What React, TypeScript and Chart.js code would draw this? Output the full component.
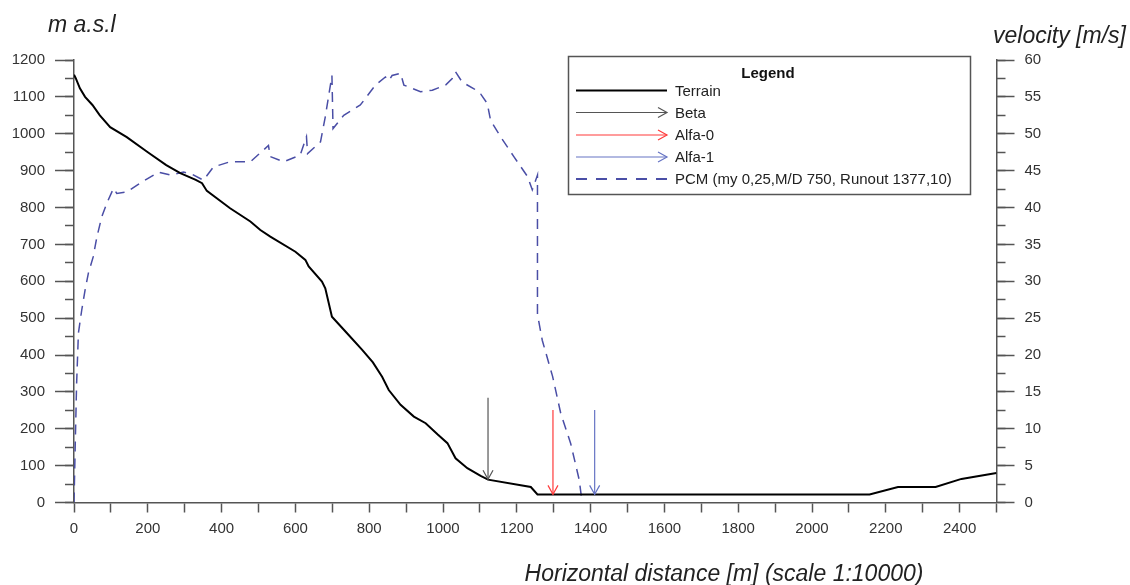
import React, { useEffect, useRef } from "react";
import { Chart, registerables } from "chart.js";
Chart.register(...registerables);

// ---- Data ----
const terrainX = [0, 5, 16, 30, 50, 70, 98, 143, 200, 250, 288, 330, 347, 360, 423, 478, 505, 532, 600, 627, 636, 672, 681, 699, 740, 781, 810, 835, 853, 885, 921, 953, 985, 1012, 1034, 1066, 1102, 1122, 1238, 1256, 2156, 2233, 2335, 2405, 2500];
const terrainY = [1160, 1150, 1123, 1100, 1078, 1050, 1018, 991, 950, 915, 893, 875, 866, 845, 798, 762, 739, 721, 680, 658, 640, 599, 581, 504, 459, 414, 380, 341, 305, 265, 233, 215, 185, 161, 120, 93, 72, 62, 42, 22, 22, 42, 42, 64, 80];

const velocityX = [0, 3, 7, 12, 21, 30, 39, 52, 62, 75, 89, 107, 116, 143, 179, 229, 261, 297, 320, 351, 378, 423, 478, 527, 532, 568, 613, 630, 633, 668, 681, 699, 702, 731, 776, 817, 844, 853, 862, 885, 894, 939, 971, 1007, 1025, 1034, 1052, 1084, 1102, 1120, 1129, 1156, 1192, 1229, 1242, 1256, 1256, 1269, 1297, 1319, 1346, 1369, 1377.1];
const velocityY = [0, 7, 16, 23, 26.1, 28.8, 31.1, 33.3, 36, 38.7, 40.6, 42.6, 41.9, 42.1, 43.3, 44.8, 44.4, 44.8, 44.5, 43.7, 45.5, 46.2, 46.2, 48.4, 46.9, 46.2, 47.1, 49.6, 47.3, 48.9, 52.3, 57.9, 50.7, 52.5, 53.9, 56.6, 57.7, 57.2, 57.9, 58.2, 56.6, 55.7, 55.9, 56.6, 57.5, 58.4, 57, 56.1, 55.4, 54.1, 51.8, 49.6, 46.9, 44.2, 42.4, 44.4, 25.5, 22, 17.1, 12.1, 8, 3.1, 0];

// Arrows: Beta, Alfa-0, Alfa-1 (x position, start elevation, tip elevation)
const arrowNames = ["Beta", "Alfa-0", "Alfa-1"];
const arrowX = [1122, 1298, 1411];
const arrowTop = [284, 251, 251];
const arrowTip = [63, 22, 22];

const legendLabels = ["Terrain", "Beta", "Alfa-0", "Alfa-1", "PCM (my 0,25,M/D 750, Runout 1377,10)"];

const xTitle = "Horizontal distance [m] (scale 1:10000)";
const yTitle = "m a.s.l";
const vTitle = "velocity [m/s]";

// ---- Styles ----
const FONT = "'Liberation Sans', Arial, sans-serif";
const AXIS_COLOR = "#555";
const LABEL_COLOR = "#333";
const TERRAIN_COLOR = "#000";
const PCM_COLOR = "#4a4ea6";
const arrowColors = ["#555", "#ff3b3b", "#6674c4"];

function drawArrow(ctx: CanvasRenderingContext2D, x1: number, y1: number, x2: number, y2: number, color: string, width: number) {
  ctx.save();
  ctx.strokeStyle = color;
  ctx.lineWidth = width;
  ctx.beginPath();
  ctx.moveTo(x1, y1);
  ctx.lineTo(x2, y2);
  ctx.stroke();
  const ang = Math.atan2(y2 - y1, x2 - x1);
  const L = 9, W = 5;
  const bx = x2 - L * Math.cos(ang), by = y2 - L * Math.sin(ang);
  const px = -Math.sin(ang) * W, py = Math.cos(ang) * W;
  ctx.beginPath();
  ctx.moveTo(bx + px, by + py);
  ctx.lineTo(x2, y2);
  ctx.lineTo(bx - px, by - py);
  ctx.stroke();
  ctx.restore();
}

const arrowsPlugin = {
  id: "arrows",
  afterDatasetsDraw(chart: any) {
    const ctx = chart.ctx as CanvasRenderingContext2D;
    const xs = chart.scales.x, ys = chart.scales.y;
    for (let i = 0; i < arrowX.length; i++) {
      const px = xs.getPixelForValue(arrowX[i]);
      drawArrow(ctx, px, ys.getPixelForValue(arrowTop[i]), px, ys.getPixelForValue(arrowTip[i]), arrowColors[i], 1.2);
    }
  },
};

const decorPlugin = {
  id: "decor",
  afterDraw(chart: any) {
    const ctx = chart.ctx as CanvasRenderingContext2D;
    ctx.save();
    // axis titles
    ctx.fillStyle = "#222";
    ctx.font = `italic 23px ${FONT}`;
    ctx.textBaseline = "alphabetic";
    ctx.textAlign = "left";
    ctx.fillText(yTitle, 48, 32);
    ctx.fillText(vTitle, 993, 43);
    ctx.textAlign = "center";
    ctx.fillText(xTitle, 724, 581);

    // legend box
    const bx = 568.5, by = 56.5, bw = 402, bh = 138;
    ctx.fillStyle = "#fff";
    ctx.fillRect(bx, by, bw, bh);
    ctx.strokeStyle = AXIS_COLOR;
    ctx.lineWidth = 1.5;
    ctx.strokeRect(bx, by, bw, bh);
    ctx.fillStyle = "#111";
    ctx.font = `bold 15px ${FONT}`;
    ctx.textAlign = "center";
    ctx.fillText("Legend", 768, 78);

    const rows = [90.5, 112.5, 135, 157, 179];
    const sx1 = 576, sx2 = 667, tx = 675;
    ctx.font = `15px ${FONT}`;
    ctx.textAlign = "left";
    ctx.textBaseline = "middle";
    for (let i = 0; i < legendLabels.length; i++) {
      const y = rows[i];
      if (i === 0) {
        ctx.strokeStyle = TERRAIN_COLOR;
        ctx.lineWidth = 2;
        ctx.beginPath(); ctx.moveTo(sx1, y); ctx.lineTo(sx2, y); ctx.stroke();
      } else if (i >= 1 && i <= 3) {
        drawArrow(ctx, sx1, y, sx2, y, arrowColors[i - 1], 1.2);
      } else {
        ctx.save();
        ctx.strokeStyle = PCM_COLOR;
        ctx.lineWidth = 1.8;
        ctx.setLineDash([11, 9]);
        ctx.beginPath(); ctx.moveTo(sx1, y); ctx.lineTo(sx2, y); ctx.stroke();
        ctx.restore();
      }
      ctx.fillStyle = "#222";
      ctx.fillText(legendLabels[i], tx, y + 1);
    }
    ctx.restore();
  },
};

export default function App() {
  const ref = useRef<HTMLCanvasElement>(null);
  useEffect(() => {
    const tickFont = { family: FONT, size: 15 };
    const plain = (v: any) => String(Math.round(Number(v) * 100) / 100);
    const chart = new Chart(ref.current as HTMLCanvasElement, {
      type: "line",
      data: {
        datasets: [
          {
            label: "Terrain",
            data: terrainX.map((x, i) => ({ x, y: terrainY[i] })),
            borderColor: TERRAIN_COLOR,
            borderWidth: 2,
            pointRadius: 0,
            tension: 0,
            xAxisID: "x",
            yAxisID: "y",
          },
          {
            label: "PCM",
            data: velocityX.map((x, i) => ({ x, y: velocityY[i] })),
            borderColor: PCM_COLOR,
            borderWidth: 1.5,
            borderDash: [10, 7],
            pointRadius: 0,
            tension: 0,
            xAxisID: "x",
            yAxisID: "v",
          },
        ],
      },
      options: {
        responsive: false,
        animation: false,
        devicePixelRatio: 1,
        layout: { padding: { top: 60, left: 0, right: 0, bottom: 0 } },
        plugins: { legend: { display: false }, tooltip: { enabled: false } },
        scales: {
          x: {
            type: "linear",
            position: "bottom",
            min: 0,
            max: 2500,
            afterFit(s: any) { s.height = 82.5; },
            ticks: {
              stepSize: 100,
              autoSkip: false,
              maxRotation: 0,
              padding: 7,
              color: LABEL_COLOR,
              font: tickFont,
              callback: (v: any) => {
                const n = Math.round(Number(v));
                return n % 200 === 0 && n < 2500 ? String(n) : "";
              },
            },
            grid: { drawOnChartArea: false, drawTicks: true, tickLength: 10, tickColor: AXIS_COLOR, tickWidth: 1.5 },
            border: { display: true, color: AXIS_COLOR, width: 1.5 },
          },
          y: {
            type: "linear",
            axis: "y",
            position: "left",
            weight: 1,
            min: 0,
            max: 1200,
            afterFit(s: any) { s.width = 74; },
            ticks: { stepSize: 100, autoSkip: false, padding: 10, color: LABEL_COLOR, font: tickFont, callback: plain },
            grid: { drawOnChartArea: false, drawTicks: true, tickLength: 19, tickColor: AXIS_COLOR, tickWidth: 1.5 },
            border: { display: true, color: AXIS_COLOR, width: 1.5 },
          },
          yMinor: {
            type: "linear",
            axis: "y",
            position: "left",
            weight: 0,
            min: 0,
            max: 1200,
            afterFit(s: any) { s.width = 0; },
            ticks: { stepSize: 50, autoSkip: false, display: false },
            grid: { drawOnChartArea: false, drawTicks: true, tickLength: 9, tickColor: AXIS_COLOR, tickWidth: 1.5 },
            border: { display: false },
          },
          v: {
            type: "linear",
            axis: "y",
            position: "right",
            weight: 1,
            min: 0,
            max: 60,
            afterFit(s: any) { s.width = 133.5; },
            ticks: { stepSize: 5, autoSkip: false, padding: 10, color: LABEL_COLOR, font: tickFont, callback: plain },
            grid: { drawOnChartArea: false, drawTicks: true, tickLength: 18, tickColor: AXIS_COLOR, tickWidth: 1.5 },
            border: { display: true, color: AXIS_COLOR, width: 1.5 },
          },
          vMinor: {
            type: "linear",
            axis: "y",
            position: "right",
            weight: 0,
            min: 0,
            max: 60,
            afterFit(s: any) { s.width = 0; },
            ticks: { stepSize: 2.5, autoSkip: false, display: false },
            grid: { drawOnChartArea: false, drawTicks: true, tickLength: 9, tickColor: AXIS_COLOR, tickWidth: 1.5 },
            border: { display: false },
          },
        },
      } as any,
      plugins: [arrowsPlugin, decorPlugin],
    });
    return () => chart.destroy();
  }, []);
  return (
    <div style={{ position: "absolute", left: 0, top: 0, width: 1130, height: 585, background: "#fff" }}>
      <canvas ref={ref} width={1130} height={585} style={{ width: 1130, height: 585, display: "block" }} />
    </div>
  );
}
